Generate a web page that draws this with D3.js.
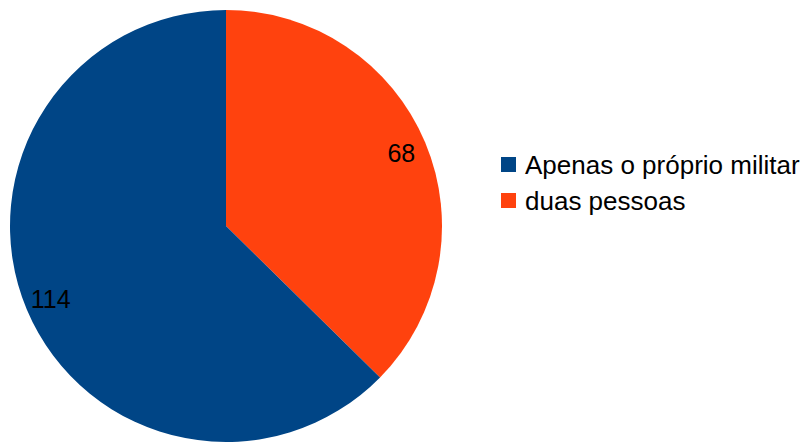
<!DOCTYPE html>
<html>
<head>
<meta charset="utf-8">
<script src="https://cdn.jsdelivr.net/npm/d3@7"></script>
<style>
  html, body { margin: 0; padding: 0; background: #fff; }
  svg { display: block; font-family: "Liberation Sans", Arial, sans-serif; }
</style>
</head>
<body>
<svg id="chart" width="811" height="443"></svg>
<script>
// Slice order: drawn clockwise from 12 o'clock
const categories = ["duas pessoas", "Apenas o próprio militar"];
const values = [68, 114];
const colors = ["#ff420e", "#004586"];
// Legend lists the categories in this order
const legendOrder = ["Apenas o próprio militar", "duas pessoas"];

const svg = d3.select("#chart");
const cx = 226, cy = 226, R = 216;

const color = d3.scaleOrdinal().domain(categories).range(colors);

const pie = d3.pie().sort(null).value((d, i) => values[i]);
const arcs = pie(categories);

const arc = d3.arc().innerRadius(0).outerRadius(R);
const labelArc = d3.arc().innerRadius(R * 0.88).outerRadius(R * 0.88);

const g = svg.append("g").attr("transform", `translate(${cx},${cy})`);

g.selectAll("path")
  .data(arcs)
  .join("path")
  .attr("d", arc)
  .attr("fill", d => color(d.data));

g.selectAll("text.val")
  .data(arcs)
  .join("text")
  .attr("class", "val")
  .attr("transform", d => `translate(${labelArc.centroid(d)})`)
  .attr("text-anchor", "middle")
  .attr("dy", "0.36em")
  .attr("font-size", 25)
  .attr("fill", "#000")
  .text(d => d.value);

const legend = svg.append("g").attr("transform", "translate(501,157)");
const item = legend.selectAll("g")
  .data(legendOrder)
  .join("g")
  .attr("transform", (d, i) => `translate(0,${i * 36})`);

item.append("rect")
  .attr("width", 15)
  .attr("height", 15)
  .attr("fill", d => color(d));

item.append("text")
  .attr("x", 24)
  .attr("y", 17)
  .attr("font-size", 26)
  .attr("fill", "#000")
  .text(d => d);
</script>
</body>
</html>
